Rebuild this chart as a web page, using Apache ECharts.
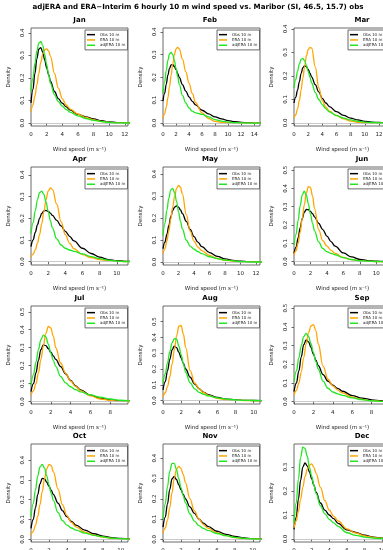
<!DOCTYPE html>
<html><head><meta charset="utf-8">
<script src="https://cdn.jsdelivr.net/npm/echarts@6/dist/echarts.min.js"></script>
<style>html,body{margin:0;padding:0;background:#fff}#c{width:383px;height:550px}</style>
</head><body><div id="c"></div>
<script>
// Wind speed grid (m s-1) at which densities were read
const xGrid = [0,0.25,0.5,0.75,1,1.25,1.5,1.75,2,2.25,2.5,3,3.5,4,4.5,5,6,7,8,9,10,11,12,13,14,15];

const janObs = [0.089,0.15,0.22,0.285,0.328,0.335,0.315,0.28,0.245,0.215,0.185,0.14,0.108,0.088,0.072,0.058,0.038,0.027,0.018,0.01,0.005,0.002,0.001,0];
const janEra = [0.05,0.08,0.12,0.17,0.22,0.27,0.305,0.325,0.329,0.32,0.295,0.22,0.155,0.108,0.08,0.062,0.04,0.025,0.014,0.007,0.003,0.001,0,0];
const janAdj = [0.14,0.2,0.265,0.32,0.355,0.362,0.345,0.305,0.26,0.215,0.175,0.125,0.095,0.075,0.06,0.048,0.032,0.02,0.012,0.006,0.003,0.001,0,0];

const febObs = [0.096,0.13,0.17,0.21,0.24,0.255,0.256,0.248,0.235,0.218,0.2,0.168,0.14,0.115,0.095,0.08,0.056,0.04,0.027,0.018,0.011,0.006,0.003,0.001,0,0];
const febEra = [0.02,0.04,0.07,0.11,0.16,0.21,0.26,0.3,0.325,0.332,0.325,0.28,0.225,0.175,0.13,0.09,0.045,0.02,0.007,0.003,0.001,0,0,0,0,0];
const febAdj = [0.13,0.18,0.23,0.275,0.303,0.31,0.3,0.275,0.24,0.205,0.17,0.12,0.088,0.066,0.052,0.045,0.038,0.027,0.015,0.008,0.004,0.002,0.001,0,0,0];

const marObs = [0.085,0.11,0.14,0.175,0.21,0.235,0.243,0.24,0.228,0.212,0.195,0.163,0.132,0.105,0.085,0.07,0.048,0.032,0.021,0.013,0.007,0.004,0.002,0.001,0];
const marEra = [0.02,0.035,0.06,0.095,0.14,0.19,0.24,0.285,0.312,0.322,0.318,0.24,0.15,0.095,0.067,0.05,0.032,0.018,0.008,0.003,0.001,0,0,0,0];
const marAdj = [0.15,0.185,0.22,0.25,0.27,0.275,0.265,0.245,0.22,0.195,0.17,0.13,0.1,0.078,0.06,0.047,0.031,0.021,0.013,0.007,0.004,0.002,0.001,0,0];

const aprObs = [0.07,0.1,0.135,0.17,0.2,0.222,0.234,0.236,0.232,0.224,0.213,0.19,0.165,0.14,0.117,0.096,0.062,0.038,0.021,0.01,0.005,0.002,0.001];
const aprEra = [0.022,0.035,0.055,0.085,0.125,0.175,0.23,0.285,0.325,0.34,0.333,0.265,0.185,0.125,0.085,0.06,0.033,0.019,0.01,0.005,0.002,0.001,0];
const aprAdj = [0.13,0.18,0.235,0.285,0.318,0.325,0.31,0.275,0.232,0.19,0.155,0.105,0.077,0.062,0.054,0.048,0.036,0.024,0.014,0.007,0.003,0.001,0];

const mayObs = [0.061,0.09,0.125,0.165,0.205,0.235,0.25,0.255,0.25,0.237,0.22,0.185,0.148,0.115,0.09,0.07,0.043,0.026,0.014,0.007,0.004,0.002,0.001,0];
const mayEra = [0.038,0.06,0.095,0.14,0.195,0.25,0.3,0.335,0.348,0.34,0.31,0.215,0.14,0.095,0.068,0.052,0.03,0.016,0.008,0.004,0.002,0.001,0,0];
const mayAdj = [0.12,0.175,0.235,0.29,0.328,0.335,0.315,0.275,0.228,0.185,0.15,0.1,0.072,0.058,0.047,0.038,0.024,0.015,0.009,0.005,0.002,0.001,0,0];

const junObs = [0.045,0.08,0.13,0.185,0.235,0.27,0.285,0.284,0.275,0.262,0.245,0.21,0.175,0.14,0.11,0.085,0.048,0.026,0.013,0.006,0.003,0.001,0];
const junEra = [0.036,0.06,0.1,0.16,0.235,0.31,0.375,0.41,0.405,0.36,0.29,0.175,0.115,0.085,0.062,0.045,0.023,0.011,0.005,0.002,0.001,0,0];
const junAdj = [0.09,0.15,0.225,0.305,0.365,0.385,0.365,0.315,0.26,0.21,0.168,0.108,0.072,0.055,0.046,0.038,0.022,0.012,0.006,0.003,0.001,0,0];

const julObs = [0.056,0.1,0.16,0.23,0.29,0.316,0.312,0.295,0.275,0.255,0.235,0.195,0.155,0.118,0.088,0.066,0.036,0.019,0.01,0.005,0.002];
const julEra = [0.037,0.06,0.1,0.16,0.235,0.31,0.38,0.418,0.41,0.365,0.3,0.215,0.158,0.115,0.085,0.062,0.032,0.015,0.007,0.003,0.001];
const julAdj = [0.093,0.15,0.22,0.29,0.345,0.37,0.36,0.32,0.27,0.23,0.195,0.14,0.105,0.083,0.067,0.055,0.038,0.025,0.015,0.008,0.004];

const augObs = [0.068,0.12,0.19,0.26,0.32,0.345,0.335,0.305,0.27,0.235,0.2,0.148,0.105,0.075,0.053,0.038,0.02,0.01,0.005,0.002,0.001,0];
const augEra = [0.025,0.05,0.09,0.15,0.23,0.32,0.41,0.47,0.475,0.42,0.335,0.19,0.11,0.075,0.05,0.034,0.015,0.006,0.002,0.001,0,0];
const augAdj = [0.11,0.17,0.24,0.31,0.365,0.392,0.388,0.345,0.29,0.232,0.178,0.112,0.075,0.052,0.04,0.03,0.018,0.01,0.005,0.002,0.001,0];

const sepObs = [0.054,0.1,0.165,0.24,0.305,0.33,0.32,0.29,0.255,0.222,0.193,0.145,0.11,0.088,0.071,0.056,0.033,0.019,0.01,0.005,0.002];
const sepEra = [0.036,0.06,0.1,0.16,0.235,0.31,0.37,0.405,0.412,0.38,0.31,0.19,0.12,0.085,0.062,0.047,0.025,0.012,0.006,0.002,0.001];
const sepAdj = [0.107,0.165,0.235,0.3,0.348,0.366,0.35,0.31,0.262,0.215,0.175,0.11,0.072,0.052,0.042,0.034,0.02,0.011,0.005,0.002,0.001];

const octObs = [0.055,0.1,0.16,0.225,0.28,0.308,0.305,0.288,0.268,0.248,0.226,0.183,0.145,0.114,0.09,0.072,0.046,0.028,0.016,0.008,0.004,0.002];
const octEra = [0.022,0.04,0.07,0.115,0.175,0.24,0.305,0.355,0.378,0.372,0.34,0.255,0.175,0.12,0.085,0.063,0.036,0.021,0.011,0.005,0.002,0.001];
const octAdj = [0.114,0.18,0.25,0.32,0.365,0.378,0.36,0.32,0.275,0.232,0.195,0.135,0.095,0.072,0.057,0.046,0.031,0.02,0.012,0.006,0.003,0.001];

const novObs = [0.06,0.11,0.175,0.245,0.298,0.31,0.295,0.27,0.245,0.222,0.2,0.16,0.128,0.1,0.08,0.064,0.04,0.025,0.014,0.007,0.003,0.001];
const novEra = [0.03,0.055,0.095,0.155,0.23,0.3,0.345,0.36,0.35,0.32,0.28,0.2,0.14,0.1,0.073,0.055,0.032,0.018,0.009,0.004,0.002,0.001];
const novAdj = [0.1,0.175,0.26,0.335,0.375,0.375,0.345,0.3,0.255,0.215,0.18,0.125,0.09,0.068,0.054,0.044,0.029,0.018,0.01,0.005,0.002,0.001];

const decObs = [0.04,0.09,0.165,0.245,0.3,0.317,0.305,0.28,0.252,0.225,0.195,0.15,0.12,0.1,0.085,0.065,0.038,0.028,0.016,0.008,0.004,0.002];
const decEra = [0.046,0.075,0.115,0.165,0.215,0.26,0.29,0.308,0.313,0.3,0.275,0.215,0.16,0.12,0.095,0.075,0.042,0.025,0.013,0.006,0.003,0.001];
const decAdj = [0.067,0.15,0.25,0.34,0.383,0.378,0.345,0.3,0.262,0.225,0.19,0.138,0.105,0.082,0.067,0.053,0.026,0.015,0.008,0.004,0.002,0.001];

const months = ['Jan','Feb','Mar','Apr','May','Jun','Jul','Aug','Sep','Oct','Nov','Dec'];
const seriesNames = ['Obs 10 m','ERA 10 m','adjERA 10 m'];
const obsSets = [janObs,febObs,marObs,aprObs,mayObs,junObs,julObs,augObs,sepObs,octObs,novObs,decObs];
const eraSets = [janEra,febEra,marEra,aprEra,mayEra,junEra,julEra,augEra,sepEra,octEra,novEra,decEra];
const adjSets = [janAdj,febAdj,marAdj,aprAdj,mayAdj,junAdj,julAdj,augAdj,sepAdj,octAdj,novAdj,decAdj];

// axis ranges per panel
const xMaxes = [12.4,14.9,13.7,11.3,12.5,11.8,9.8,10.7,10,10.8,10.8,11];
const yMins = [-0.0133,-0.013,-0.0128,-0.015,-0.0136,-0.018,-0.0128,-0.021,-0.0123,-0.0136,-0.013,-0.0125];
const yMaxes = [0.422,0.417,0.404,0.436,0.432,0.517,0.532,0.598,0.512,0.481,0.47,0.396];
const xTickLabels = [0,2,4,6,8,10,12,14];
const yTicks3 = [0,0.1,0.2,0.3];
const yTicks4 = [0,0.1,0.2,0.3,0.4];
const yTicks5 = [0,0.1,0.2,0.3,0.4,0.5];
const yTickSets = [yTicks4,yTicks4,yTicks4,yTicks4,yTicks4,yTicks5,yTicks5,yTicks5,yTicks5,yTicks4,yTicks4,yTicks3];

const mainTitle = 'adjERA and ERA\u2212Interim 6 hourly 10 m wind speed vs. Maribor (SI, 46.5, 15.7) obs';

// ---- layout ----
const FONT = 'DejaVu Sans';
const colLeft = [31, 163, 294];
const rowTop = [28, 167, 306, 444];
const W = 97, H = 98;
const titleX = [79.5, 210, 362];
const colors = ['#000000', '#FFA500', '#22E622'];

const chart = echarts.init(document.getElementById('c'), null, {renderer: 'canvas'});
const option = {
  animation: false,
  backgroundColor: '#fff',
  title: [{
    text: mainTitle, left: 198, top: 4, textAlign: 'center', padding: 0,
    textStyle: {fontFamily: FONT, fontSize: 7.1, fontWeight: 'bold', color: '#000'}
  }],
  legend: [], grid: [], xAxis: [], yAxis: [], series: []
};

months.forEach((m, i) => {
  const c = i % 3, r = Math.floor(i / 3);
  const left = colLeft[c], top = rowTop[r];
  option.grid.push({left: left, top: top, width: W, height: H, show: true,
    containLabel: false, outerBoundsMode: 'none',
    borderColor: '#444', borderWidth: 0.8, backgroundColor: 'transparent'});
  option.title.push({text: m, left: titleX[c], top: top - 11, textAlign: 'center', padding: 0,
    textStyle: {fontFamily: FONT, fontSize: 7, fontWeight: 'bold', color: '#000'}});
  const xt = xTickLabels.filter(v => v <= xMaxes[i]);
  option.xAxis.push({
    type: 'value', gridIndex: i, min: 0, max: xMaxes[i],
    axisLine: {show: false}, splitLine: {show: false},
    axisTick: {show: true, length: 2.5, customValues: xt, lineStyle: {color: '#444', width: 0.8}},
    axisLabel: {customValues: xt, fontFamily: FONT, fontSize: 5.5, color: '#222', margin: 6},
    name: 'Wind speed (m s\u207B\u00B9)', nameLocation: 'middle', nameGap: 21,
    nameTextStyle: {fontFamily: FONT, fontSize: 5.5, color: '#222'}
  });
  const yt = yTickSets[i];
  option.yAxis.push({
    type: 'value', gridIndex: i, min: yMins[i], max: yMaxes[i],
    axisLine: {show: false}, splitLine: {show: false},
    axisTick: {show: true, length: 2.5, customValues: yt, lineStyle: {color: '#444', width: 0.8}},
    axisLabel: {customValues: yt, rotate: 90, fontFamily: FONT, fontSize: 5.5, color: '#222', margin: 5,
      formatter: v => Number(v).toFixed(1)},
    name: 'Density', nameLocation: 'middle', nameGap: 19, nameRotate: 90,
    nameTextStyle: {fontFamily: FONT, fontSize: 5.5, color: '#222'}
  });
  option.legend.push({
    left: left + W - 43, top: top + 2, orient: 'vertical', data: seriesNames,
    icon: 'rect', itemWidth: 8, itemHeight: 1.5, itemGap: 0, padding: [2, 2, 2, 2],
    selectedMode: false, backgroundColor: '#fff', borderColor: '#444', borderWidth: 0.8,
    textStyle: {fontFamily: FONT, fontSize: 4, lineHeight: 5.3, color: '#222'}
  });
  [obsSets[i], eraSets[i], adjSets[i]].forEach((arr, k) => {
    const s = {
      type: 'line', name: seriesNames[k], xAxisIndex: i, yAxisIndex: i,
      data: arr.map((v, j) => [xGrid[j], v]),
      symbol: 'none', showSymbol: false, smooth: 0.4, smoothMonotone: 'x',
      lineStyle: {color: colors[k], width: 1.3}, itemStyle: {color: colors[k]},
      silent: true, z: 3 + k
    };
    if (k === 0) {
      s.markLine = {silent: true, symbol: ['none', 'none'], label: {show: false},
        lineStyle: {color: '#bbbbbb', type: 'solid', width: 0.8}, data: [{yAxis: 0}]};
    }
    option.series.push(s);
  });
});
chart.setOption(option);
</script>
</body></html>
